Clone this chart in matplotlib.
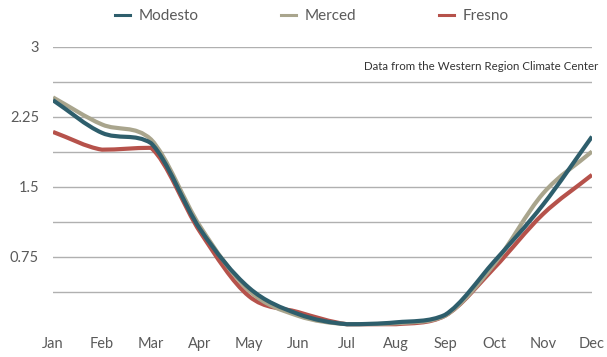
import matplotlib.pyplot as plt
from matplotlib.path import Path
from matplotlib.patches import PathPatch
import numpy as np

months = ['Jan', 'Feb', 'Mar', 'Apr', 'May', 'Jun', 'Jul', 'Aug', 'Sep', 'Oct', 'Nov', 'Dec']
modesto = [2.43, 2.08, 1.97, 1.05, 0.42, 0.14, 0.03, 0.05, 0.13, 0.70, 1.31, 2.04]
merced = [2.46, 2.17, 2.01, 1.08, 0.39, 0.12, 0.03, 0.04, 0.12, 0.67, 1.43, 1.88]
fresno = [2.09, 1.90, 1.92, 1.02, 0.33, 0.16, 0.03, 0.03, 0.12, 0.63, 1.21, 1.63]
yticks = [0.75, 1.5, 2.25, 3]
ytick_labels = ['0.75', '1.5', '2.25', '3']

colors = {'Modesto': '#2e5e6c', 'Merced': '#a9a58d', 'Fresno': '#b6524b'}
txt = '#5a5a5a'
plt.rcParams['font.family'] = ['Lato', 'DejaVu Sans']


def smooth_path(xs, ys):
    # bezier through the points, control points clamped so there is little overshoot
    xs = np.asarray(xs, float)
    ys = np.asarray(ys, float)
    n = len(xs)
    verts = [(xs[0], ys[0])]
    codes = [Path.MOVETO]
    for i in range(n - 1):
        y1, y2 = ys[i], ys[i + 1]
        y0 = ys[i - 1] if i > 0 else 2 * y1 - y2
        y3 = ys[i + 2] if i + 2 < n else 2 * y2 - y1
        lo, hi = min(y1, y2), max(y1, y2)
        c1 = np.clip(y1 + (y2 - y0) / 6, lo, hi)
        c2 = np.clip(y2 - (y3 - y1) / 6, lo, hi)
        verts += [(xs[i] + 1 / 3, c1), (xs[i + 1] - 1 / 3, c2), (xs[i + 1], y2)]
        codes += [Path.CURVE4] * 3
    return Path(verts, codes)


fig = plt.figure(figsize=(6.07, 3.57), dpi=100)
ax = fig.add_axes([53 / 607, 30 / 357, 539 / 607, 280 / 357])
x = np.arange(len(months))

for val in np.arange(0.375, 3.01, 0.375):
    ax.axhline(val, color='#b0b0b0', lw=1.0, zorder=1)

for name, vals in [('Fresno', fresno), ('Merced', merced), ('Modesto', modesto)]:
    patch = PathPatch(smooth_path(x, vals), fill=False, edgecolor=colors[name],
                      lw=3.0, capstyle='butt', joinstyle='round', zorder=3)
    ax.add_patch(patch)

handles = [plt.Line2D([], [], color=colors[n], lw=2.2) for n in ['Modesto', 'Merced', 'Fresno']]
fig.legend(handles, ['Modesto', 'Merced', 'Fresno'], loc='center left',
           bbox_to_anchor=(115 / 607, 1 - 16 / 357), ncol=3, frameon=False,
           fontsize=11, handlelength=1.0, columnspacing=5.4, borderpad=0, borderaxespad=0,
           labelcolor=txt, handletextpad=0.55)

ax.set_xlim(0, 11)
ax.set_ylim(0, 3)
ax.set_xticks(x)
ax.set_xticklabels(months)
ax.set_yticks(yticks)
ax.set_yticklabels(ytick_labels)
ax.tick_params(length=0, colors=txt, labelsize=10.5)
ax.tick_params(axis='x', pad=7)
ax.tick_params(axis='y', pad=10)
for s in ax.spines.values():
    s.set_visible(False)

fig.text(598 / 607, 1 - 67 / 357, 'Data from the Western Region Climate Center',
         ha='right', va='center', fontsize=8.3, color='#333333')

fig.savefig('out.png', dpi=100)
